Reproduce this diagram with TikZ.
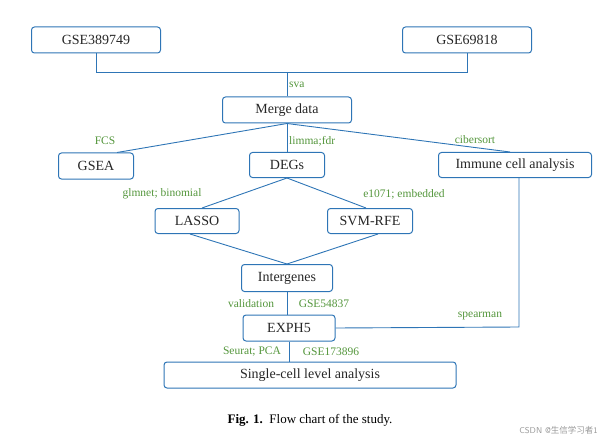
\documentclass[tikz,border=0pt]{standalone}
\usepackage{fontspec}
\setmainfont{Liberation Serif}
\newfontfamily\cjk{Noto Sans CJK SC}
\definecolor{bl}{RGB}{46,117,182}
\definecolor{gr}{RGB}{84,150,60}
\begin{document}
\begin{tikzpicture}[x=1pt,y=-1pt,
 box/.style={draw=bl,line width=1pt,rounded corners=3pt,inner sep=0pt,font=\fontsize{14}{16}\selectfont,text=black!85},
 ln/.style={draw=bl,line width=0.9pt},
 lab/.style={text=gr,font=\fontsize{11.5}{13}\selectfont,inner sep=1pt}]
\useasboundingbox (0,0) rectangle (605,441);
\node[box,minimum width=129pt,minimum height=26pt] (g1) at (96,40) {GSE389749};
\node[box,minimum width=129pt,minimum height=26pt] (g2) at (467,40) {GSE69818};
\node[box,minimum width=129pt,minimum height=26pt] (merge) at (287,110) {Merge data};
\node[box,minimum width=75pt,minimum height=26pt] (gsea) at (96,166) {GSEA};
\node[box,minimum width=75pt,minimum height=25pt] (degs) at (287,165) {DEGs};
\node[box,minimum width=153pt,minimum height=25pt] (imm) at (515,165) {Immune cell analysis};
\node[box,minimum width=84pt,minimum height=25pt] (lasso) at (197,221) {LASSO};
\node[box,minimum width=85pt,minimum height=25pt] (svm) at (370,221) {SVM-RFE};
\node[box,minimum width=91pt,minimum height=27pt] (inter) at (287,278) {Intergenes};
\node[box,minimum width=92pt,minimum height=26pt] (exph) at (289,328) {EXPH5};
\node[box,minimum width=292pt,minimum height=26pt] (sc) at (310,375) {Single-cell level analysis};
\coordinate (j1) at (96,72);
\coordinate (j2) at (467,72);
\coordinate (jm) at (287,72);
\coordinate (cr) at (519,327);
\draw[ln] (g1.south) -- (j1) -- (j2) -- (g2.south);
\draw[ln] (jm) -- (merge.north);
\draw[ln] (merge.south) -- ([xshift=-17pt]gsea.north east);
\draw[ln] (merge.south) -- (degs.north);
\draw[ln] (merge.south) -- ([xshift=-5pt]imm.north);
\draw[ln] (degs.south) -- ([xshift=5pt]lasso.north);
\draw[ln] (degs.south) -- ([xshift=-4pt]svm.north);
\draw[ln] ([xshift=-7pt]lasso.south) -- (inter.north);
\draw[ln] ([xshift=8pt]svm.south) -- (inter.north);
\draw[ln] (inter.south) -- (inter.south |- exph.north);
\draw[ln] (exph.east) -- (cr) -- (cr |- imm.south);
\draw[ln] (exph.south) -- (exph.south |- sc.north);
\node[lab,anchor=west] (l1) at (288,85) {sva};
\node[lab] (l2) at (105,141) {FCS};
\node[lab,anchor=west] (l3) at (288,141) {limma;fdr};
\node[lab] (l4) at (475,140) {cibersort};
\node[lab] (l5) at (162,194) {glmnet;\ binomial};
\node[lab] (l6) at (404,194) {e1071; embedded};
\node[lab] (l7) at (251,304) {validation};
\node[lab] (l8) at (324,304) {GSE54837};
\node[lab] (l9) at (480,316) {spearman};
\node[lab] (l10) at (252,352) {Seurat; PCA};
\node[lab] (l11) at (331,352) {GSE173896};
\node[font=\fontsize{13}{15}\selectfont] (cap) at (310,420) {\textbf{Fig. 1.}\ \ Flow chart of the study.};
\node[text=black!40,font=\fontsize{8.5}{9}\selectfont\sffamily,anchor=east,inner sep=0pt] (wm) at (598,430) {CSDN @{\cjk 生信学习者}1};
\end{tikzpicture}
\end{document}
